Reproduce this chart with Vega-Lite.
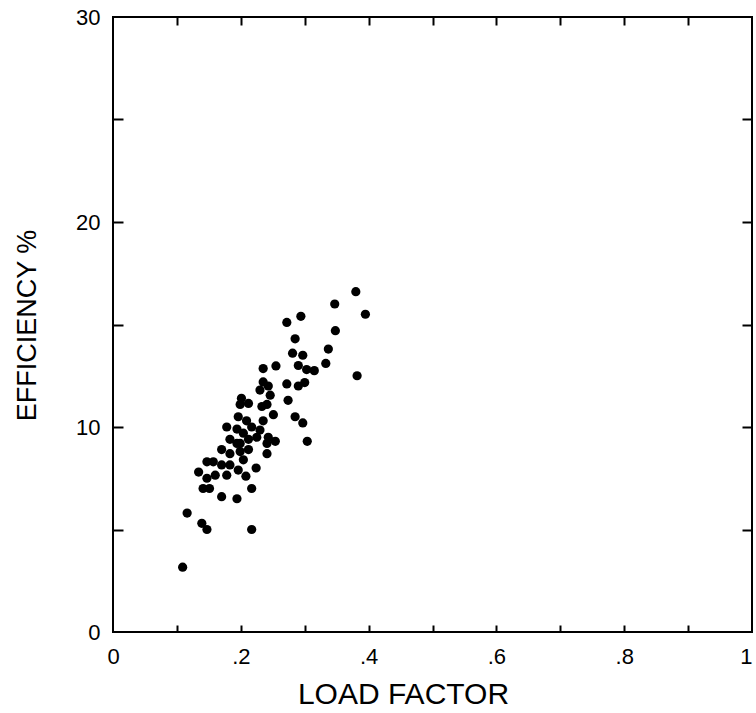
{
  "$schema": "https://vega.github.io/schema/vega-lite/v6.json",
  "autosize": "none",
  "width": 639,
  "height": 615,
  "padding": {"left": 113, "top": 17, "right": 4, "bottom": 81},
  "background": "white",
  "config": {
    "view": {"stroke": "black", "strokeWidth": 2},
    "font": "Liberation Sans",
    "axis": {"grid": false, "domain": false, "tickColor": "black", "tickWidth": 2, "labelColor": "black", "titleColor": "black", "labelFont": "Liberation Sans", "titleFont": "Liberation Sans"}
  },
  "data": {"values": [
    {"load": 0.380, "eff": 16.6}, {"load": 0.347, "eff": 16.0}, {"load": 0.395, "eff": 15.5},
    {"load": 0.348, "eff": 14.7}, {"load": 0.272, "eff": 15.1}, {"load": 0.294, "eff": 15.4},
    {"load": 0.285, "eff": 14.3}, {"load": 0.337, "eff": 13.8}, {"load": 0.333, "eff": 13.1},
    {"load": 0.281, "eff": 13.6}, {"load": 0.297, "eff": 13.5}, {"load": 0.290, "eff": 13.0},
    {"load": 0.315, "eff": 12.75}, {"load": 0.303, "eff": 12.8}, {"load": 0.382, "eff": 12.5},
    {"load": 0.235, "eff": 12.85}, {"load": 0.255, "eff": 12.98}, {"load": 0.272, "eff": 12.1},
    {"load": 0.300, "eff": 12.17}, {"load": 0.290, "eff": 12.0}, {"load": 0.274, "eff": 11.3},
    {"load": 0.285, "eff": 10.5}, {"load": 0.297, "eff": 10.2}, {"load": 0.304, "eff": 9.3},
    {"load": 0.235, "eff": 12.2}, {"load": 0.243, "eff": 12.0}, {"load": 0.246, "eff": 11.55},
    {"load": 0.241, "eff": 11.1}, {"load": 0.251, "eff": 10.6}, {"load": 0.235, "eff": 10.3},
    {"load": 0.243, "eff": 9.5}, {"load": 0.254, "eff": 9.3}, {"load": 0.241, "eff": 8.7},
    {"load": 0.224, "eff": 8.0}, {"load": 0.217, "eff": 7.0}, {"load": 0.217, "eff": 5.0},
    {"load": 0.194, "eff": 6.5}, {"load": 0.170, "eff": 6.6}, {"load": 0.141, "eff": 7.0},
    {"load": 0.151, "eff": 7.0}, {"load": 0.116, "eff": 5.8}, {"load": 0.139, "eff": 5.3},
    {"load": 0.147, "eff": 5.0}, {"load": 0.109, "eff": 3.16}, {"load": 0.199, "eff": 11.1},
    {"load": 0.212, "eff": 11.15}, {"load": 0.201, "eff": 11.4}, {"load": 0.196, "eff": 10.5},
    {"load": 0.209, "eff": 10.3}, {"load": 0.217, "eff": 10.0}, {"load": 0.178, "eff": 10.0},
    {"load": 0.194, "eff": 9.9}, {"load": 0.204, "eff": 9.7}, {"load": 0.212, "eff": 9.4},
    {"load": 0.225, "eff": 9.5}, {"load": 0.199, "eff": 9.2}, {"load": 0.170, "eff": 8.9},
    {"load": 0.183, "eff": 8.7}, {"load": 0.199, "eff": 8.8}, {"load": 0.212, "eff": 8.9},
    {"load": 0.157, "eff": 8.3}, {"load": 0.170, "eff": 8.15}, {"load": 0.147, "eff": 8.3},
    {"load": 0.183, "eff": 8.15}, {"load": 0.196, "eff": 7.9}, {"load": 0.208, "eff": 7.6},
    {"load": 0.134, "eff": 7.8}, {"load": 0.147, "eff": 7.5}, {"load": 0.160, "eff": 7.65},
    {"load": 0.178, "eff": 7.65}, {"load": 0.230, "eff": 11.8}, {"load": 0.233, "eff": 11.0},
    {"load": 0.230, "eff": 9.85}, {"load": 0.241, "eff": 9.2}, {"load": 0.204, "eff": 8.4},
    {"load": 0.194, "eff": 9.2}, {"load": 0.183, "eff": 9.4}
  ]},
  "resolve": {"axis": {"x": "independent", "y": "independent"}},
  "layer": [
    {
      "mark": {"type": "point", "filled": true, "color": "black", "opacity": 1, "size": 85},
      "encoding": {
        "x": {"field": "load", "type": "quantitative", "scale": {"domain": [0, 1], "nice": false},
          "axis": {"orient": "bottom", "values": [0, 0.2, 0.4, 0.6, 0.8, 1], "ticks": false,
            "labelExpr": "datum.value == 0 ? '0' : datum.value == 1 ? '1' : substring(format(datum.value, '.1f'), 1)",
            "labelAlign": {"condition": {"test": "datum.value == 1", "value": "right"}, "value": "center"},
            "labelFontSize": 22, "labelPadding": 14, "labelFlush": false,
            "title": "LOAD FACTOR", "titleFontSize": 30, "titleFontWeight": "normal",
            "titleX": 290, "titleY": 71, "titleBaseline": "alphabetic", "titleAlign": "center"}},
        "y": {"field": "eff", "type": "quantitative", "scale": {"domain": [0, 30], "nice": false},
          "axis": {"orient": "left", "values": [0, 10, 20, 30], "ticks": false,
            "labelFontSize": 22, "labelPadding": 13, "labelFlush": false,
            "title": "EFFICIENCY %", "titleFontSize": 27, "titleFontWeight": "normal",
            "titleX": -78, "titleY": 308, "titleBaseline": "alphabetic", "titleAlign": "center", "titleAngle": -90}}
      }
    },
    {
      "mark": {"type": "point", "opacity": 0},
      "encoding": {
        "x": {"field": "load", "type": "quantitative", "scale": {"domain": [0, 1], "nice": false},
          "axis": {"orient": "bottom", "values": [0.1, 0.2, 0.3, 0.4, 0.5, 0.6, 0.7, 0.8, 0.9], "labels": false, "tickSize": -7, "title": null}},
        "y": {"field": "eff", "type": "quantitative", "scale": {"domain": [0, 30], "nice": false},
          "axis": {"orient": "left", "values": [5, 10, 15, 20, 25], "labels": false, "tickSize": -10, "title": null}}
      }
    },
    {
      "mark": {"type": "point", "opacity": 0},
      "encoding": {
        "x": {"field": "load", "type": "quantitative", "scale": {"domain": [0, 1], "nice": false},
          "axis": {"orient": "top", "values": [0.1, 0.2, 0.3, 0.4, 0.5, 0.6, 0.7, 0.8, 0.9], "labels": false, "tickSize": -8, "title": null}},
        "y": {"field": "eff", "type": "quantitative", "scale": {"domain": [0, 30], "nice": false},
          "axis": {"orient": "right", "values": [5, 10, 15, 20, 25], "labels": false, "tickSize": -10, "title": null}}
      }
    }
  ]
}
